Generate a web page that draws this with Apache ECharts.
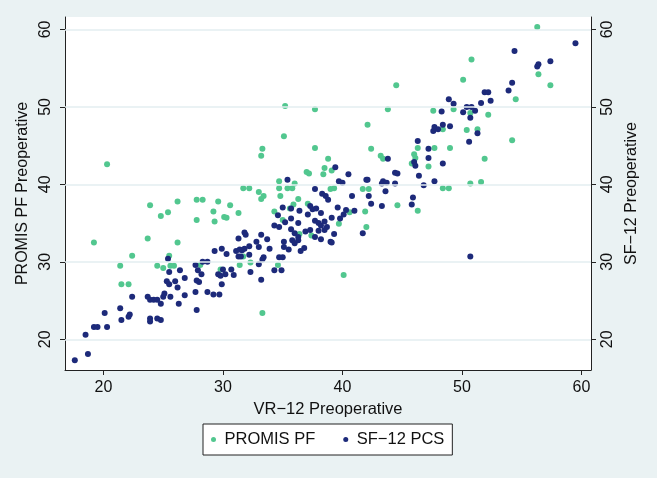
<!DOCTYPE html>
<html>
<head>
<meta charset="utf-8">
<script src="https://cdn.jsdelivr.net/npm/echarts@6/dist/echarts.min.js"></script>
<style>
html,body{margin:0;padding:0;background:#EAF2F3;}
#chart{width:657px;height:478px;}
</style>
</head>
<body>
<div id="chart"></div>
<script>
const xTicks = [20, 30, 40, 50, 60];
const yTicks = [20, 30, 40, 50, 60];
const xTitle = 'VR\u221212 Preoperative';
const yLeftTitle = 'PROMIS PF Preoperative';
const yRightTitle = 'SF\u221212 Preoperative';
const seriesNames = ['PROMIS PF', 'SF\u221212 PCS'];

const promisX = [20.3,19.2,23.9,24.8,25.4,26.2,23.7,26.2,22.4,21.4,24.5,25.0,25.5,25.6,25.9,21.5,22.1,35.1,33.3,33.2,27.8,28.3,29.6,30.6,31.7,32.2,33.0,33.4,33.2,34.7,34.7,35.4,34.8,29.2,30.1,30.3,31.3,27.8,29.3,34.3,35.0,28.1,29.8,31.4,31.7,32.3,34.6,33.3,35.6,44.5,35.2,37.7,43.8,42.1,37.7,42.4,43.2,43.4,38.8,38.5,38.4,39.1,37.0,37.2,36.0,35.8,39.0,39.3,41.7,42.2,36.3,35.9,37.1,40.6,41.9,44.6,39.7,42.0,36.4,37.4,40.1,50.8,50.1,47.6,49.3,50.7,52.2,48.4,50.4,51.3,46.3,47.7,49.0,46.0,46.1,45.8,47.2,51.9,48.4,48.9,50.7,51.6,46.3,56.3,56.4,57.4,54.5,54.2];
const promisY = [42.6,32.5,37.3,35.9,36.4,37.8,33.0,32.5,30.8,29.5,29.5,29.2,30.8,29.5,29.5,27.1,27.1,46.2,44.6,43.7,38.0,38.0,37.8,37.3,39.5,39.5,39.0,38.5,38.1,40.4,39.5,39.5,38.5,36.5,35.8,35.7,36.3,35.4,35.2,36.5,35.4,29.6,29.0,29.6,30.7,29.9,29.6,23.4,36.9,52.8,50.1,49.7,49.7,47.7,44.7,44.6,43.7,43.3,43.3,42.1,41.3,41.8,41.6,41.4,40.1,39.5,39.4,39.5,39.4,39.4,38.1,37.4,37.5,36.4,36.5,37.3,34.9,34.5,33.6,33.4,28.3,56.1,53.5,49.5,49.7,49.2,49.0,47.1,47.0,47.1,44.7,44.7,44.7,43.9,43.4,42.7,42.3,43.3,39.5,39.5,40.1,40.3,36.6,60.3,54.2,52.8,51.0,45.7];

const sf12X = [17.6,18.7,18.5,19.2,19.5,20.3,20.1,21.4,21.5,22.1,22.2,22.4,23.7,23.9,24.2,24.5,24.8,25.0,25.1,25.6,26.3,23.9,23.9,24.5,24.8,25.3,25.5,26.0,26.2,25.4,25.5,26.4,
35.4,35.0,34.6,35.2,34.3,34.7,31.8,31.9,31.3,33.2,32.8,33.7,35.1,35.1,35.5,29.3,29.9,30.3,31.1,31.4,31.6,31.8,31.3,31.5,32.2,32.2,33.0,33.9,33.4,33.3,33.0,34.7,35.0,34.3,34.9,32.3,33.2,28.3,28.7,27.7,27.9,28.2,26.8,27.8,28.0,30.0,30.7,29.6,29.8,30.2,30.9,29.9,26.8,27.7,28.7,29.2,29.7,27.8,
39.4,43.8,40.5,39.7,40.0,42.0,42.1,43.4,43.3,43.7,44.4,44.6,44.4,43.6,37.7,38.3,38.6,38.8,40.8,42.2,42.4,43.3,37.3,37.5,37.8,37.1,36.4,35.7,38.2,39.6,40.3,41.0,40.1,39.8,39.1,37.7,38.0,38.2,38.5,38.7,36.3,35.7,35.7,36.0,36.3,36.9,37.3,38.0,38.5,39.3,37.7,38.2,39.0,39.1,41.7,35.8,36.0,36.3,36.5,36.8,
51.9,52.2,48.9,49.3,48.3,50.1,50.4,50.8,51.1,51.6,52.4,50.7,47.6,47.7,48.0,48.4,49.0,51.3,50.6,46.3,47.2,47.2,46.0,46.1,48.4,46.4,46.8,47.7,45.9,45.8,
59.5,54.4,57.4,56.4,56.3,54.2,53.9,50.7];
const sf12Y = [17.3,18.1,20.6,21.6,21.6,21.6,23.4,24.0,22.5,22.9,23.2,25.5,25.5,25.1,25.1,25.1,24.6,25.5,25.9,25.5,24.6,22.7,22.3,22.7,22.5,27.5,27.1,27.5,26.7,30.4,28.7,28.9,
40.6,37.0,36.0,35.1,34.7,34.5,33.8,33.5,33.0,33.5,32.6,32.9,32.6,31.9,31.6,31.4,31.7,31.0,31.4,31.6,31.5,31.7,30.7,30.7,32.0,30.9,31.9,31.7,30.6,30.3,29.7,30.6,30.6,28.9,28.9,28.7,27.7,30.0,30.0,29.6,28.9,28.4,27.9,27.6,27.4,29.0,29.0,28.4,28.2,28.4,28.3,27.1,25.7,26.1,26.1,25.8,25.8,23.8,
42.2,43.3,41.3,40.4,40.2,40.6,40.6,40.4,40.1,40.2,41.5,41.4,40.1,39.1,39.4,38.8,38.5,38.0,38.5,38.5,37.5,37.2,37.2,36.8,36.9,36.1,36.6,36.9,36.3,37.0,36.7,36.6,36.1,35.6,35.7,35.3,35.0,34.7,35.2,34.5,35.0,35.6,34.2,33.7,33.2,33.9,34.1,34.0,34.1,33.6,33.2,32.9,32.6,32.5,33.7,32.8,32.4,32.8,31.4,31.8,
51.9,51.9,51.0,50.4,49.4,49.3,50.0,50.0,49.5,50.5,50.8,48.6,46.9,47.4,47.1,47.7,47.5,46.6,45.5,45.6,44.6,43.4,42.9,42.4,42.7,41.1,39.9,40.4,38.3,37.4,
58.2,57.2,55.9,55.5,55.2,53.1,52.1,30.7];

const zip = (a, b) => a.map((v, i) => [v, b[i]]);
const FONT = '"Liberation Sans", Arial, Helvetica, sans-serif';
const GREEN = '#52C78F';
const NAVY = '#1D2A7A';

const chart = echarts.init(document.getElementById('chart'), null, {renderer: 'canvas'});

const yAxisCommon = {
  type: 'value',
  min: 16.04,
  max: 61.6,
  nameLocation: 'middle',
  nameTextStyle: {fontFamily: FONT, fontSize: 16, color: '#111'},
  axisLine: {show: true, lineStyle: {color: '#222', width: 1}},
  axisTick: {show: true, inside: false, length: 5, customValues: yTicks, lineStyle: {color: '#222'}},
  axisLabel: {rotate: 90, customValues: yTicks, fontFamily: FONT, fontSize: 16, color: '#111'},
  splitLine: {show: false}
};

const option = {
  backgroundColor: '#EAF2F3',
  animation: false,
  grid: {left: 65, right: 66, top: 17, bottom: 108, show: true, backgroundColor: '#ffffff', borderWidth: 0},
  xAxis: {
    type: 'value',
    min: 16.78,
    max: 60.8,
    name: xTitle,
    nameLocation: 'middle',
    nameGap: 27,
    nameTextStyle: {fontFamily: FONT, fontSize: 16.5, color: '#111'},
    axisLine: {show: true, onZero: false, lineStyle: {color: '#222', width: 1}},
    axisTick: {show: true, length: 5, customValues: xTicks, lineStyle: {color: '#222'}},
    axisLabel: {customValues: xTicks, margin: 10, fontFamily: FONT, fontSize: 16, color: '#111'},
    splitLine: {show: false}
  },
  yAxis: [
    Object.assign({}, yAxisCommon, {position: 'left', name: yLeftTitle, nameGap: 29,
      axisLabel: Object.assign({}, yAxisCommon.axisLabel, {margin: 11})}),
    Object.assign({}, yAxisCommon, {position: 'right', name: yRightTitle, nameGap: 31,
      axisLabel: Object.assign({}, yAxisCommon.axisLabel, {margin: 9})})
  ],
  legend: {
    left: 203,
    top: 424,
    orient: 'horizontal',
    data: seriesNames,
    icon: 'circle',
    itemWidth: 12,
    itemHeight: 5,
    itemGap: 28,
    padding: [7, 8, 7, 8],
    backgroundColor: '#ffffff',
    borderColor: '#222',
    borderWidth: 1,
    borderRadius: 0,
    textStyle: {fontFamily: FONT, fontSize: 16.5, color: '#111'}
  },
  series: [
    {
      name: 'grid',
      type: 'scatter',
      data: [],
      silent: true,
      z: 1,
      markLine: {
        silent: true,
        symbol: 'none',
        label: {show: false},
        lineStyle: {color: '#E3EEF0', width: 1.5, type: 'solid'},
        data: yTicks.map(v => ({yAxis: v}))
      }
    },
    {
      name: seriesNames[0],
      type: 'scatter',
      z: 3,
      symbolSize: 6,
      itemStyle: {color: GREEN, opacity: 1},
      data: zip(promisX, promisY)
    },
    {
      name: seriesNames[1],
      type: 'scatter',
      z: 4,
      symbolSize: 6,
      itemStyle: {color: NAVY, opacity: 1},
      data: zip(sf12X, sf12Y)
    }
  ]
};
chart.setOption(option);
</script>
</body>
</html>
